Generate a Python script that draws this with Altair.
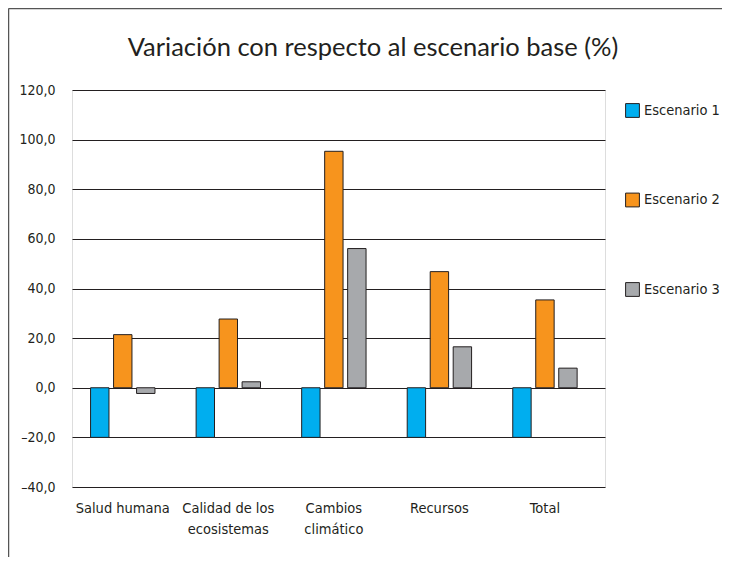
import altair as alt
import pandas as pd

categories = ["Salud humana", "Calidad de los\necosistemas", "Cambios\nclimático", "Recursos", "Total"]
series = ["Escenario 1", "Escenario 2", "Escenario 3"]
esc1 = [-20.0, -20.0, -20.0, -20.0, -20.0]
esc2 = [21.4, 27.7, 95.3, 46.8, 35.4]
esc3 = [-2.3, 2.4, 56.1, 16.5, 7.9]
colors = ["#00aeef", "#f7941d", "#a7a9ac"]
y_ticks = [-40, -20, 0, 20, 40, 60, 80, 100, 120]
title_text = "Variación con respecto al escenario base (%)"

rows = []
for s, vals in zip(series, [esc1, esc2, esc3]):
    for c, v in zip(categories, vals):
        rows.append({"categoria": c, "escenario": s, "valor": v})
df = pd.DataFrame(rows)

FONT_COND = "DejaVu Sans Condensed"
INK = "#231f20"

bars = alt.Chart(df).mark_bar(stroke=INK, strokeWidth=1).encode(
    x=alt.X("categoria:N", sort=categories, title=None,
            scale=alt.Scale(paddingInner=0.39, paddingOuter=0.22, align=0.4),
            axis=alt.Axis(labelAngle=0, labelExpr="split(datum.label, '\\n')",
                          labelFont=FONT_COND, labelFontSize=14.5, labelColor=INK,
                          labelPadding=14, labelLineHeight=21, ticks=False,
                          domain=False, grid=False, labelBaseline="top")),
    xOffset=alt.XOffset("escenario:N", sort=series,
                        scale=alt.Scale(paddingInner=0.2, paddingOuter=0)),
    y=alt.Y("valor:Q", title=None,
            scale=alt.Scale(domain=[-40, 120], nice=False, zero=False),
            axis=alt.Axis(values=y_ticks, domain=False, ticks=False,
                          labelExpr="(datum.value < 0 ? '\u2013' : '') + replace(format(abs(datum.value), '.1f'), '.', ',')",
                          labelFont=FONT_COND, labelFontSize=14, labelColor=INK,
                          labelPadding=17, grid=True, gridColor=INK,
                          gridWidth=1, gridOpacity=1)),
    color=alt.Color("escenario:N", sort=series,
                    scale=alt.Scale(domain=series, range=colors),
                    legend=alt.Legend(title=None, orient="none", legendX=553, legendY=13,
                                      symbolType="square", symbolSize=190,
                                      symbolStrokeColor=INK, symbolStrokeWidth=1,
                                      labelFont=FONT_COND, labelFontSize=14.5, labelColor=INK,
                                      labelOffset=4, rowPadding=70.5)),
)

frame_data = alt.Data(values=[{"k": 1}])
top_line = alt.Chart(frame_data).mark_rule(color="#555", strokeWidth=1.5).encode(
    x=alt.value(-63.5), x2=alt.value(650), y=alt.value(-81.5))
left_line = alt.Chart(frame_data).mark_rule(color="#555", strokeWidth=1.5).encode(
    x=alt.value(-63.5), y=alt.value(-81.5), y2=alt.value(470))
title = alt.Chart(frame_data).mark_text(
    text=title_text, font="Lato", fontSize=25.5, color=INK, align="center",
    baseline="alphabetic").encode(x=alt.value(301), y=alt.value(-34))

chart = alt.layer(bars, top_line, left_line, title).properties(
    width=533, height=397,
    autosize=alt.AutoSizeParams(type="none"),
    padding={"left": 64, "top": 82, "right": 117, "bottom": 70},
).configure_view(stroke=None).configure(background="white")

chart.save("out.html", embed_options={"renderer": "svg", "actions": False})
